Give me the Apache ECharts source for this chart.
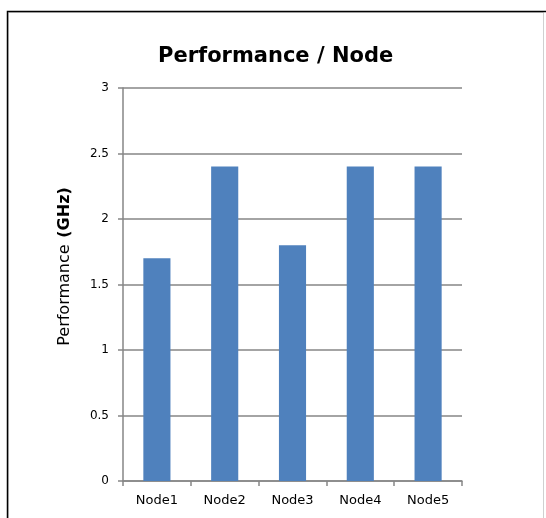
<!DOCTYPE html>
<html><head><meta charset="utf-8">
<script src="https://cdn.jsdelivr.net/npm/echarts@6/dist/echarts.min.js"></script>
<style>html,body{margin:0;padding:0;background:#fff}#c{width:546px;height:518px}</style>
</head><body><div id="c"></div>
<script>
const categories = ['Node1','Node2','Node3','Node4','Node5'];
const performance = [1.7, 2.4, 1.8, 2.4, 2.4];
const yTicks = [0, 0.5, 1, 1.5, 2, 2.5, 3];
const titleText = 'Performance / Node';

const chart = echarts.init(document.getElementById('c'), null, {renderer:'canvas'});
const font = 'DejaVu Sans, Verdana, sans-serif';
chart.setOption({
  animation:false,
  backgroundColor:'#fff',
  graphic:[
    {type:'rect', shape:{x:8.5,y:12.5,width:535,height:520}, style:{fill:'none', stroke:'#d0d0d0', lineWidth:1}, silent:true, z:0},
    {type:'polyline', shape:{points:[[7.5,520],[7.5,11.5],[546,11.5]]}, style:{fill:'none', stroke:'#000', lineWidth:1.5}, silent:true, z:1}
  ],
  title:{text:titleText, left:153, top:41,
    textStyle:{fontFamily:font, fontWeight:'bold', fontSize:21, color:'#000'}},
  grid:{left:123, right:84, top:88, bottom:37, containLabel:false},
  xAxis:{type:'category', data:categories,
    axisLine:{lineStyle:{color:'#868686', width:1.5}},
    axisTick:{show:true, length:5, alignWithLabel:false, lineStyle:{color:'#868686', width:1.5}},
    axisLabel:{fontFamily:font, fontSize:13, color:'#000', margin:13}},
  yAxis:{type:'value', min:yTicks[0], max:yTicks[yTicks.length-1], interval:0.5,
    name:'{n|Performance}  {b|(GHz)}', nameLocation:'middle', nameGap:50, nameRotate:90,
    nameTextStyle:{padding:[0,0,0,36], rich:{n:{fontFamily:font, fontSize:16, color:'#000'}, b:{fontFamily:font, fontSize:16, fontWeight:'bold', color:'#000'}}},
    axisLine:{show:true, lineStyle:{color:'#868686', width:1.5}},
    axisTick:{show:true, length:5, lineStyle:{color:'#868686', width:1.5}},
    splitLine:{lineStyle:{color:'#868686', width:1.5}},
    axisLabel:{fontFamily:font, fontSize:12, color:'#000', margin:14}},
  series:[{type:'bar', data:performance, barWidth:'40%', itemStyle:{color:'#4F81BD'}}]
});
</script></body></html>
